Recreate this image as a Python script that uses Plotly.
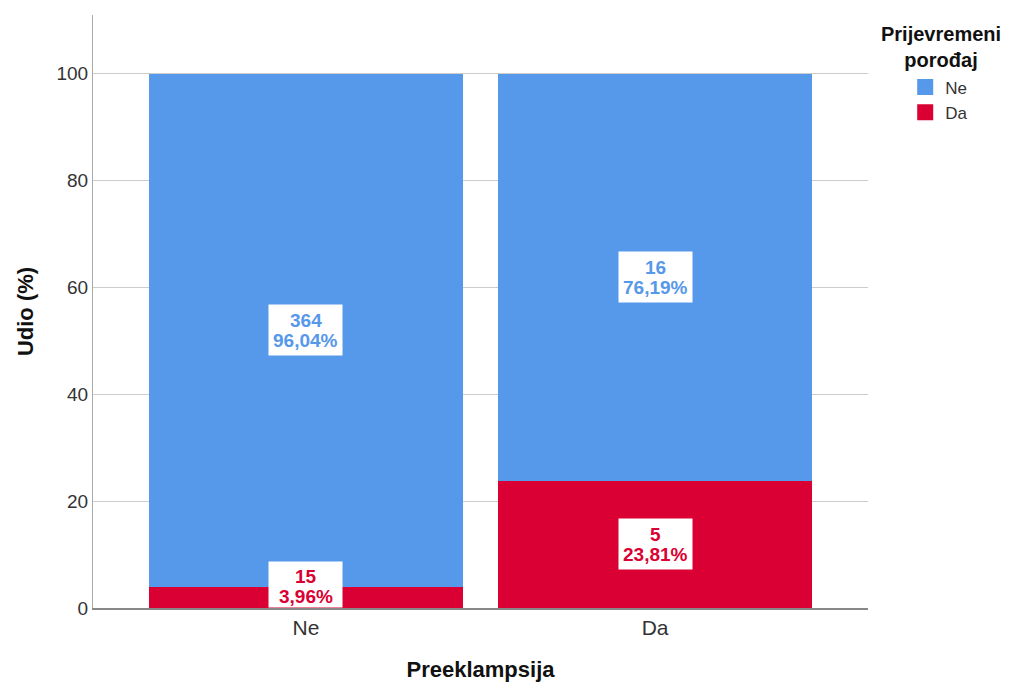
import plotly.graph_objects as go

# data
categories = ["Ne", "Da"]
series_names = ["Ne", "Da"]
counts_ne = [364, 16]
counts_da = [15, 5]
pct_ne = [96.04, 76.19]
pct_da = [3.96, 23.81]
y_ticks = [0, 20, 40, 60, 80, 100]

BLUE = "#5698E9"
RED = "#DA0033"
FONT = "Liberation Sans, Arial, sans-serif"
LABEL_SIZE = 19

fig = go.Figure()
fig.add_trace(go.Bar(x=categories, y=pct_da, name=series_names[1], showlegend=False,
                     marker=dict(color=RED, line=dict(width=0))))
fig.add_trace(go.Bar(x=categories, y=pct_ne, name=series_names[0], showlegend=False,
                     marker=dict(color=BLUE, line=dict(width=0))))

# legend entries with bigger square symbols than bars get
for name, col in [(series_names[0], BLUE), (series_names[1], RED)]:
    fig.add_trace(go.Scatter(x=[None], y=[None], mode="markers", name=name,
                             marker=dict(symbol="square", size=16, color=col)))


def add_label(cat, y, count, pct, color, on_axis=False):
    # white box, then two tightly spaced lines of text on top of it
    if on_axis:
        # box gets cut off at the axis line
        fig.add_annotation(x=cat, y=0, yanchor="bottom", text=" ", showarrow=False,
                           width=73, height=45, bgcolor="white", borderpad=0)
    else:
        fig.add_annotation(x=cat, y=y, text=" ", showarrow=False, width=73, height=50,
                           bgcolor="white", borderpad=0)
    font = dict(color=color, size=LABEL_SIZE, family=FONT, weight="bold")
    fig.add_annotation(x=cat, y=y, yshift=10, text=str(count), showarrow=False, font=font)
    fig.add_annotation(x=cat, y=y, yshift=-10, text=f"{pct:.2f}%".replace(".", ","),
                       showarrow=False, font=font)


for i, cat in enumerate(categories):
    mid_da = pct_da[i] / 2
    # small segments get the label at their top edge instead of the middle
    if mid_da >= 5:
        add_label(cat, mid_da, counts_da[i], pct_da[i], RED)
    else:
        add_label(cat, pct_da[i], counts_da[i], pct_da[i], RED, on_axis=True)
    add_label(cat, pct_da[i] + pct_ne[i] / 2, counts_ne[i], pct_ne[i], BLUE)

# legend title, centred above the items
fig.add_annotation(xref="paper", yref="paper", x=1.094, y=0.99, xanchor="center", yanchor="top",
                   text="Prijevremeni<br>porođaj", showarrow=False,
                   font=dict(size=20, color="#111111", family=FONT, weight="bold"))

fig.update_layout(
    barmode="stack",
    bargap=0.103,
    width=1015,
    height=684,
    plot_bgcolor="white",
    paper_bgcolor="white",
    margin=dict(l=85, r=155, t=7, b=84),
    font=dict(family=FONT, color="#333333"),
    legend=dict(
        x=1.048, y=0.908, xanchor="left", yanchor="top",
        traceorder="normal",
        font=dict(size=17, color="#333333"),
        itemsizing="trace",
        tracegroupgap=0,
    ),
)

fig.update_xaxes(
    range=[-0.61, 1.61],
    showline=True, linecolor="#888888", linewidth=2,
    tickfont=dict(size=21, color="#333333"),
    title=dict(text="Preeklampsija", font=dict(size=22, color="#111111", weight="bold"), standoff=23),
    ticks="",
)
fig.update_yaxes(
    range=[0, 111],
    tickvals=y_ticks,
    showgrid=True, gridcolor="#cccccc", gridwidth=1,
    showline=True, linecolor="#aaaaaa", linewidth=1,
    zeroline=False,
    tickfont=dict(size=19, color="#333333"),
    title=dict(text="Udio (%)", font=dict(size=22, color="#111111", weight="bold"), standoff=16),
    ticks="",
)

fig.write_html("out.html")
